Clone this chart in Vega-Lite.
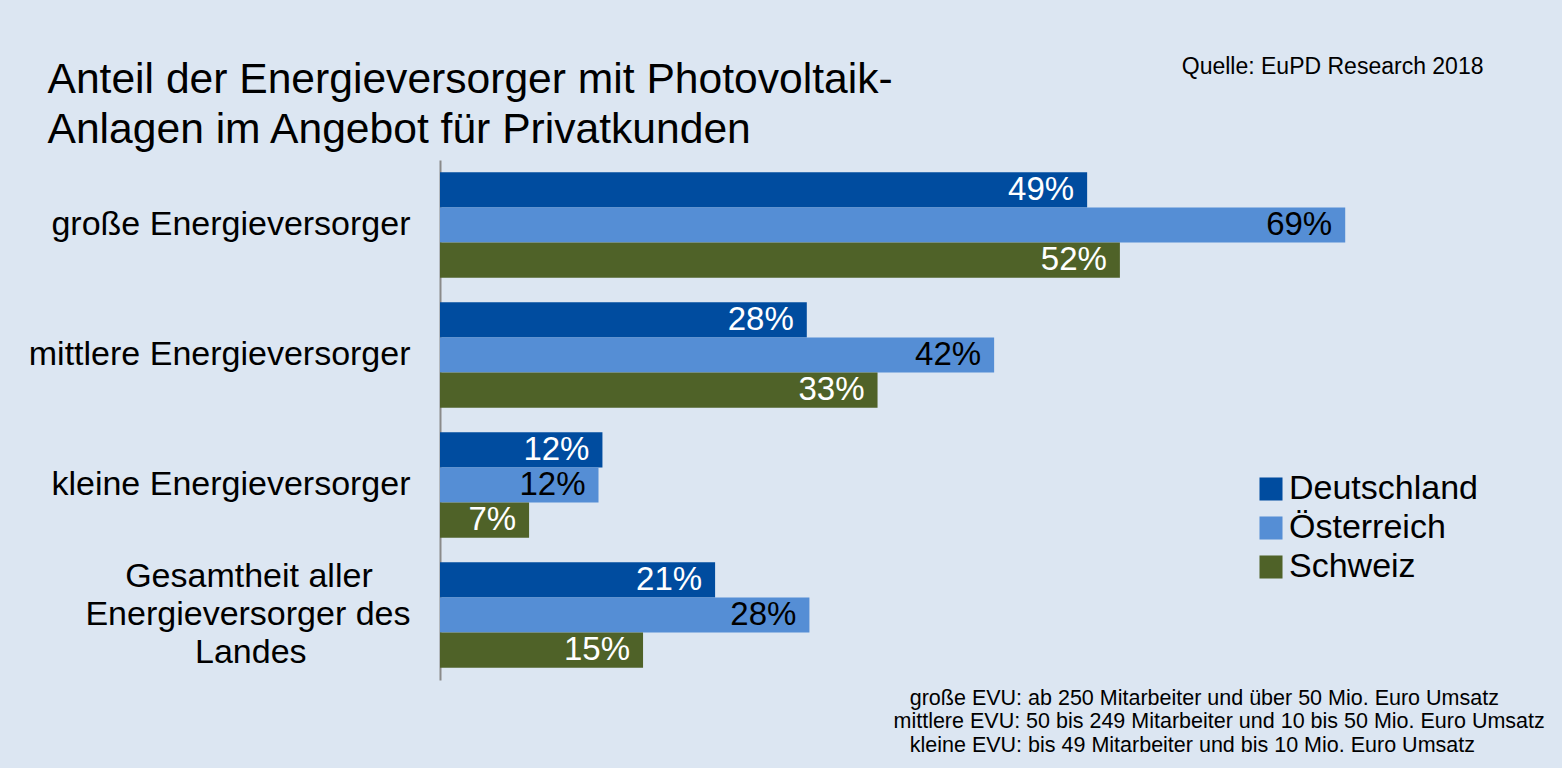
{
  "$schema": "https://vega.github.io/schema/vega-lite/v6.json",
  "width": 1048,
  "height": 520,
  "autosize": {"type": "none"},
  "padding": {"left": 440, "top": 160, "right": 74, "bottom": 88},
  "background": "#dce6f2",
  "config": {"view": {"stroke": null}, "font": "Liberation Sans"},
  "data": {
    "values": [
      {"category": "große Energieversorger", "country": "Deutschland", "value": 49.4, "label": "49%"},
      {"category": "große Energieversorger", "country": "Österreich", "value": 69.1, "label": "69%"},
      {"category": "große Energieversorger", "country": "Schweiz", "value": 51.9, "label": "52%"},
      {"category": "mittlere Energieversorger", "country": "Deutschland", "value": 28.0, "label": "28%"},
      {"category": "mittlere Energieversorger", "country": "Österreich", "value": 42.3, "label": "42%"},
      {"category": "mittlere Energieversorger", "country": "Schweiz", "value": 33.4, "label": "33%"},
      {"category": "kleine Energieversorger", "country": "Deutschland", "value": 12.4, "label": "12%"},
      {"category": "kleine Energieversorger", "country": "Österreich", "value": 12.1, "label": "12%"},
      {"category": "kleine Energieversorger", "country": "Schweiz", "value": 6.8, "label": "7%"},
      {"category": "Gesamtheit aller Energieversorger des Landes", "country": "Deutschland", "value": 21.0, "label": "21%"},
      {"category": "Gesamtheit aller Energieversorger des Landes", "country": "Österreich", "value": 28.2, "label": "28%"},
      {"category": "Gesamtheit aller Energieversorger des Landes", "country": "Schweiz", "value": 15.5, "label": "15%"}
    ]
  },
  "encoding": {
    "x": {
      "field": "value",
      "type": "quantitative",
      "scale": {"domain": [0, 80], "nice": false},
      "axis": {
        "orient": "bottom",
        "labels": false,
        "ticks": false,
        "domain": false,
        "grid": false,
        "title": [
          "\u200b\u00a0\u00a0\u2009große EVU: ab 250 Mitarbeiter und über 50 Mio. Euro Umsatz",
          "mittlere EVU: 50 bis 249 Mitarbeiter und 10 bis 50 Mio. Euro Umsatz",
          "\u200b\u00a0\u00a0\u2009kleine EVU: bis 49 Mitarbeiter und bis 10 Mio. Euro Umsatz"
        ],
        "titleAlign": "left",
        "titleAnchor": "start",
        "titleX": 453,
        "titleY": 24,
        "titleBaseline": "alphabetic",
        "titleFontSize": 21.5,
        "titleFontWeight": "normal",
        "titleColor": "black",
        "titleLineHeight": 23.5
      }
    },
    "yOffset": {
      "field": "country",
      "type": "nominal",
      "sort": ["Deutschland", "Österreich", "Schweiz"],
      "scale": {"paddingInner": 0, "paddingOuter": 0}
    }
  },
  "layer": [
    {
      "mark": {"type": "bar"},
      "encoding": {
        "y": {
          "field": "category",
          "type": "nominal",
          "sort": null,
          "scale": {"paddingInner": 0.19, "paddingOuter": 0.095},
          "axis": {
            "orient": "left",
            "title": ["Anteil der Energieversorger mit Photovoltaik-", "Anlagen im Angebot für Privatkunden"],
            "titleAngle": 0,
            "titleAlign": "left",
            "titleBaseline": "alphabetic",
            "titleX": -393,
            "titleY": -68,
            "titleFontSize": 42.6,
            "titleFontWeight": "normal",
            "titleColor": "black",
            "titleLineHeight": 50,
            "labelFontSize": 34,
            "labelColor": "black",
            "labelPadding": 30,
            "labelLimit": 600,
            "labelExpr": "datum.value == 'Gesamtheit aller Energieversorger des Landes' ? ['Gesamtheit aller\u00a0\u00a0\u00a0\u00a0\u200b', 'Energieversorger des', 'Landes\u00a0\u00a0\u00a0\u00a0\u00a0\u00a0\u00a0\u00a0\u00a0\u00a0\u00a0\u200b'] : ['', datum.value]",
            "labelLineHeight": 38,
            "labelBaseline": "middle",
            "labelAlign": "right",
            "labelOffset": -38,
            "ticks": false,
            "tickSize": 0,
            "domainColor": "#8a8a8a",
            "domainWidth": 2,
            "grid": false
          }
        },
        "color": {
          "field": "country",
          "type": "nominal",
          "scale": {"domain": ["Deutschland", "Österreich", "Schweiz"], "range": ["#004c9f", "#558ed5", "#4f6228"]},
          "legend": {
            "orient": "none",
            "legendX": 814,
            "legendY": 312,
            "title": null,
            "symbolType": "square",
            "symbolSize": 530,
            "symbolStrokeWidth": 0,
            "symbolOpacity": 1,
            "labelFontSize": 34,
            "labelColor": "black",
            "labelOffset": 1,
            "labelLimit": 400,
            "rowPadding": 5,
            "padding": 0
          }
        }
      }
    },
    {
      "mark": {"type": "text", "align": "right", "baseline": "middle", "dx": -13, "fontSize": 33},
      "encoding": {
        "y": {
          "field": "category",
          "type": "nominal",
          "sort": null,
          "scale": {"paddingInner": 0.19, "paddingOuter": 0.095},
          "axis": {
            "orient": "right",
            "labels": false,
            "ticks": false,
            "domain": false,
            "grid": false,
            "title": "Quelle: EuPD Research 2018",
            "titleAngle": 0,
            "titleAlign": "right",
            "titleBaseline": "alphabetic",
            "titleX": -5,
            "titleY": -87,
            "titleFontSize": 23,
            "titleFontWeight": "normal",
            "titleColor": "black"
          }
        },
        "text": {"field": "label"},
        "color": {
          "field": "country",
          "type": "nominal",
          "scale": {"domain": ["Deutschland", "Österreich", "Schweiz"], "range": ["#ffffff", "#000000", "#ffffff"]},
          "legend": null
        }
      }
    }
  ],
  "resolve": {"axis": {"y": "independent"}, "scale": {"color": "independent"}}
}
